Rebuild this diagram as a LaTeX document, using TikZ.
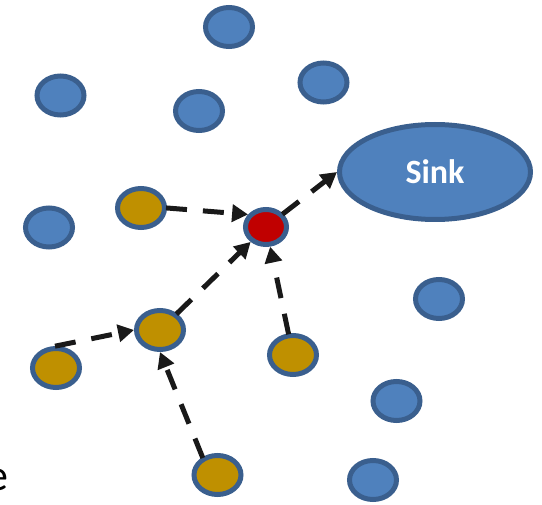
\documentclass[tikz,border=0pt]{standalone}
\usepackage{fontspec}
\setmainfont{Carlito}
\usetikzlibrary{arrows.meta,shapes.geometric}
\definecolor{nodeblue}{HTML}{4F81BD}
\definecolor{edgeblue}{HTML}{3A5F8E}
\definecolor{nodegold}{HTML}{BF9000}
\definecolor{nodered}{HTML}{C00000}
\begin{document}
\begin{tikzpicture}[x=1pt,y=-1pt,
  sensor/.style={ellipse, draw=edgeblue, line width=5pt, fill=nodeblue,
    minimum width=47pt, minimum height=39pt, inner sep=0pt},
  member/.style={sensor, fill=nodegold},
  head/.style={sensor, fill=nodered, minimum width=41pt, minimum height=35pt},
  sinkbox/.style={sensor, minimum width=191pt, minimum height=95pt,
    text=white, font=\bfseries\fontsize{34}{40}\selectfont},
  hop/.style={draw=black!90, line width=5pt, dash pattern=on 21pt off 16pt,
    -{Triangle[length=16pt,width=17pt]}, shorten <=-1pt}
]
\useasboundingbox (0,0) rectangle (542,505);
\clip (0,0) rectangle (542,505);

% plain sensors
\node[sensor] (b1) at (229,27) {};
\node[sensor] (b2) at (60.5,95.5) {};
\node[sensor] (b3) at (199,111) {};
\node[sensor] (b4) at (323.5,82.5) {};
\node[sensor] (b5) at (49,227.5) {};
\node[sensor] (b6) at (439,299) {};
\node[sensor] (b7) at (396.5,401) {};
\node[sensor] (b8) at (373,480) {};

% sink
\node[sinkbox] (sink) at (435,172) {Sink};

% cluster
\node[head] (r) at (266,227) {};
\node[member] (g1) at (141,208) {};
\node[member] (g2) at (160,330) {};
\node[member] (g4) at (293,355) {};
\node[member] (g5) at (56,368) {};
\node[member] (g6) at (217.5,475) {};

% clipped text at the left edge
\node[anchor=base east, inner sep=0pt, font=\fontsize{44}{50}\selectfont] (lbl) at (9,491) {e};

% connectors
\draw[hop] (g1.east) -- (r.145);
\draw[hop] (r) -- (sink.west);
\draw[hop] (g2) -- (r);
\draw[hop] (g4) -- (r);
\draw[hop] (g5.north) -- (g2.west);
\draw[hop] (g6.130) -- (g2.south);
\end{tikzpicture}
\end{document}
